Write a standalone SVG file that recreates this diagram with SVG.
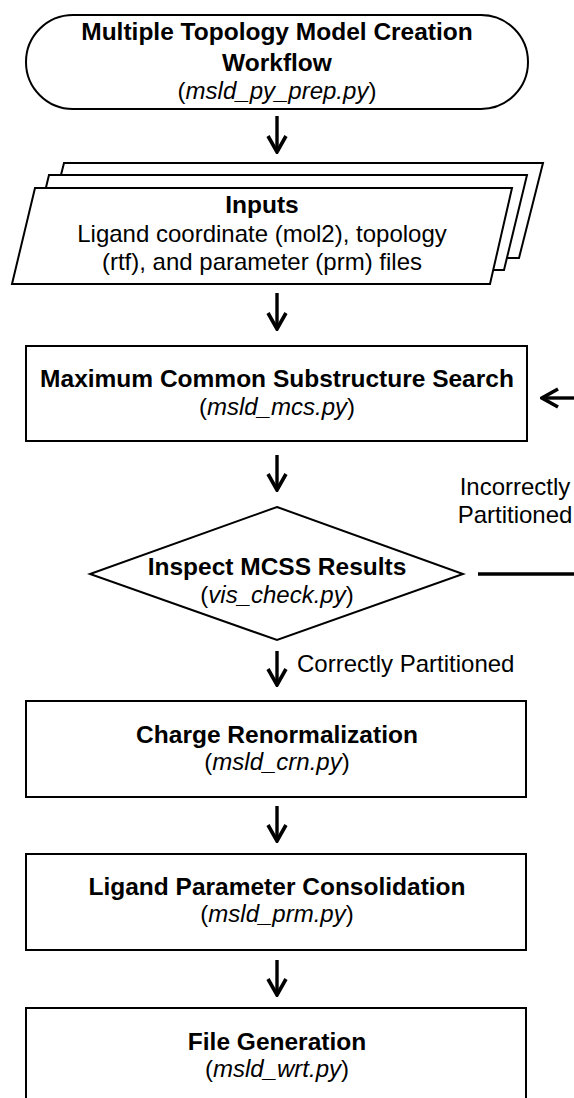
<svg xmlns="http://www.w3.org/2000/svg" width="574" height="1098" viewBox="0 0 574 1098">
<style>
.shape{fill:#fff;stroke:#000;stroke-width:2}
.b{font-family:"Liberation Sans",Arial,sans-serif;font-size:24.5px;font-weight:bold;fill:#000;text-anchor:middle}
.r{font-family:"Liberation Sans",Arial,sans-serif;font-size:24px;fill:#000;text-anchor:middle}
.i{font-style:italic}
.c{fill:none;stroke:#000;stroke-width:3.4}
</style>
<defs>
<marker id="arr" markerUnits="userSpaceOnUse" viewBox="-20 -12 22 24" markerWidth="22" markerHeight="24" refX="0" refY="0" orient="auto">
<path d="M-16,-9 L0,0 L-16,9" fill="none" stroke="#000" stroke-width="3.6" stroke-linejoin="miter"/>
</marker>
</defs>
<rect width="574" height="1098" fill="#fff"/>
<g id="start">
<rect class="shape" x="26" y="15" width="502" height="94" rx="47" ry="47"/>
<text class="b" x="277" y="40">Multiple Topology Model Creation</text>
<text class="b" x="277" y="71">Workflow</text>
<text class="r" x="277" y="99">(<tspan class="i">msld_py_prep.py</tspan>)</text>
</g>
<g id="inputs">
<polygon class="shape" points="64,163 543,163 519,258 40,258"/>
<polygon class="shape" points="49,175 527,175 504,270 26,270"/>
<polygon class="shape" points="35,188 512,188 490,284 12,284"/>
<text class="b" x="262" y="213">Inputs</text>
<text class="r" x="262" y="242">Ligand coordinate (mol2), topology</text>
<text class="r" x="262" y="270">(rtf), and parameter (prm) files</text>
</g>
<g id="mcs">
<rect class="shape" x="26" y="346" width="501" height="95"/>
<text class="b" x="277" y="387">Maximum Common Substructure Search</text>
<text class="r" x="277" y="415">(<tspan class="i">msld_mcs.py</tspan>)</text>
</g>
<g id="inspect">
<polygon class="shape" points="277,507 463,574 277,640 90,574"/>
<text class="b" x="277" y="575">Inspect MCSS Results</text>
<text class="r" x="277" y="603">(<tspan class="i">vis_check.py</tspan>)</text>
</g>
<g id="crn">
<rect class="shape" x="26" y="701" width="500" height="96"/>
<text class="b" x="277" y="743">Charge Renormalization</text>
<text class="r" x="277" y="770">(<tspan class="i">msld_crn.py</tspan>)</text>
</g>
<g id="prm">
<rect class="shape" x="26" y="854" width="500" height="96"/>
<text class="b" x="277" y="895">Ligand Parameter Consolidation</text>
<text class="r" x="277" y="922">(<tspan class="i">msld_prm.py</tspan>)</text>
</g>
<g id="wrt">
<rect class="shape" x="26" y="1008" width="500" height="96"/>
<text class="b" x="277" y="1050">File Generation</text>
<text class="r" x="277" y="1077">(<tspan class="i">msld_wrt.py</tspan>)</text>
</g>
<g id="connectors">
<line class="c" x1="277" y1="116" x2="277" y2="152" marker-end="url(#arr)"/>
<line class="c" x1="277" y1="293" x2="277" y2="329" marker-end="url(#arr)"/>
<line class="c" x1="277" y1="455" x2="277" y2="490" marker-end="url(#arr)"/>
<line class="c" x1="277" y1="651" x2="277" y2="685" marker-end="url(#arr)"/>
<line class="c" x1="277" y1="806" x2="277" y2="841" marker-end="url(#arr)"/>
<line class="c" x1="277" y1="960" x2="277" y2="995" marker-end="url(#arr)"/>
<line class="c" x1="478" y1="574" x2="574" y2="574"/>
<line class="c" x1="574" y1="398" x2="542" y2="398" marker-end="url(#arr)"/>
<text class="r" x="515" y="495">Incorrectly</text>
<text class="r" x="515" y="523">Partitioned</text>
<text class="r" x="297" y="672" style="text-anchor:start">Correctly Partitioned</text>
</g>
</svg>
